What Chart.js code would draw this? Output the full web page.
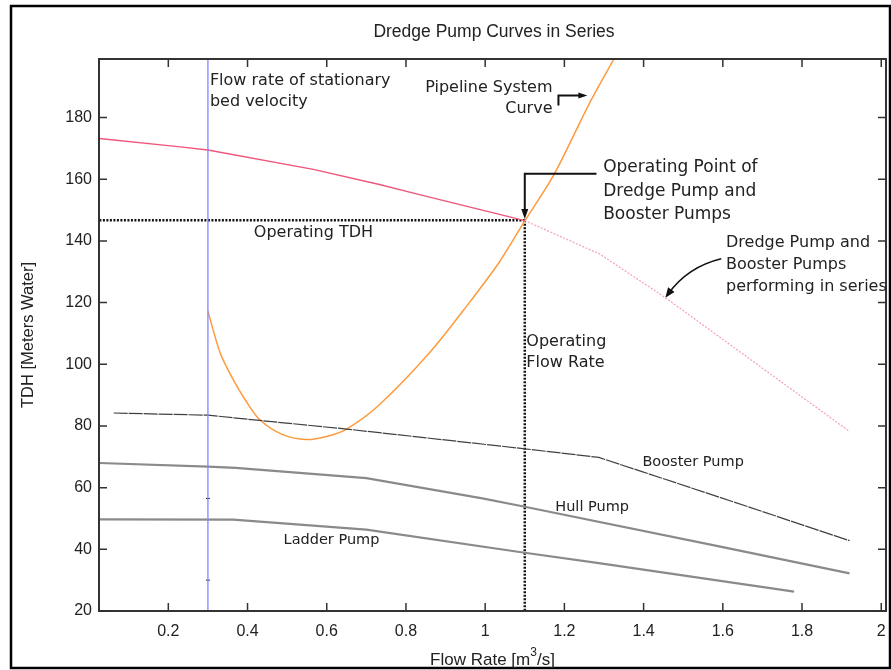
<!DOCTYPE html>
<html lang="en">
  <head>
    <meta charset="UTF-8" />
    <title>Dredge Pump Curves in Series</title>
    <style>
      * {
        margin: 0;
        padding: 0;
        box-sizing: border-box;
      }
      body {
        background: white;
      }
      canvas {
        display: block;
      }
    </style>
  </head>
  <body>
    <canvas id="myChart" width="891" height="670"></canvas>

    <script src="https://cdn.jsdelivr.net/npm/chart.js"></script>

    <script>
      // tick labels
      const xTicks = [0.2, 0.4, 0.6, 0.8, 1, 1.2, 1.4, 1.6, 1.8, 2];
      const yTicks = [20, 40, 60, 80, 100, 120, 140, 160, 180];

      // dredge + booster pumps in series (solid up to operating point, dotted after)
      const seriesX = [0.026, 0.23, 0.3, 0.566, 0.733, 0.834, 1.1];
      const seriesTdh = [173.2, 170.5, 169.5, 163.2, 158.3, 155, 146.6];
      const seriesOutX = [1.1, 1.29, 1.455, 1.92];
      const seriesOutTdh = [146.6, 135.7, 121.6, 78.2];

      const boosterX = [0.062, 0.3, 0.43, 0.65, 1.1, 1.287, 1.396, 1.622, 1.92];
      const boosterTdh = [84.2, 83.5, 81.8, 79, 72.6, 69.8, 65.2, 55.6, 42.8];

      const hullX = [0.026, 0.3, 0.37, 0.7, 0.993, 1.1, 1.6, 1.92];
      const hullTdh = [68, 66.8, 66.4, 63.1, 56.5, 53.8, 40.7, 32.2];

      const ladderX = [0.026, 0.364, 0.7, 1.1, 1.287, 1.78];
      const ladderTdh = [49.7, 49.6, 46.4, 38.9, 35.5, 26.3];

      const pipeX = [0.3, 0.331, 0.364, 0.394, 0.431, 0.49, 0.549, 0.6, 0.65, 0.733, 0.86, 0.96, 1.035, 1.1, 1.174, 1.262, 1.325];
      const pipeTdh = [117.2, 103.7, 95, 88.5, 82, 77.1, 75.6, 76.6, 79, 86.9, 103.8, 120, 133, 146.5, 161.6, 184.3, 199];

      const stationaryFlow = 0.3;
      const stationaryMarks = [56.5, 30];
      const opFlow = 1.1;
      const opTdh = 146.7;

      const pts = (xs, ys) => xs.map((x, i) => ({ x: x, y: ys[i] }));

      const tickFont = { family: "Liberation Sans", size: 16 };
      const noteFont = '"DejaVu Sans", sans-serif';

      function arrowHead(ctx, fx, fy, tx, ty, len, half) {
        const a = Math.atan2(ty - fy, tx - fx);
        ctx.beginPath();
        ctx.moveTo(tx, ty);
        ctx.lineTo(tx - len * Math.cos(a) + half * Math.sin(a), ty - len * Math.sin(a) - half * Math.cos(a));
        ctx.lineTo(tx - len * Math.cos(a) - half * Math.sin(a), ty - len * Math.sin(a) + half * Math.cos(a));
        ctx.closePath();
        ctx.fill();
      }

      const frameAndNotes = {
        id: "frameAndNotes",
        afterDraw(chart) {
          const {
            ctx,
            chartArea: { left, right, top, bottom },
            scales: { x, y },
          } = chart;
          ctx.save();

          // outer frame
          ctx.strokeStyle = "#000";
          ctx.lineWidth = 2.5;
          ctx.strokeRect(11, 6, 879, 662);

          // plot box + inward ticks on all sides
          ctx.strokeStyle = "#333";
          ctx.lineWidth = 2;
          ctx.strokeRect(left, top, right - left, bottom - top);
          ctx.lineWidth = 1.5;
          ctx.beginPath();
          xTicks.forEach((v) => {
            const px = x.getPixelForValue(v);
            ctx.moveTo(px, bottom);
            ctx.lineTo(px, bottom - 8);
            ctx.moveTo(px, top);
            ctx.lineTo(px, top + 8);
          });
          yTicks.forEach((v) => {
            const py = y.getPixelForValue(v);
            ctx.moveTo(left, py);
            ctx.lineTo(left + 8, py);
            ctx.moveTo(right, py);
            ctx.lineTo(right - 8, py);
          });
          ctx.stroke();

          // titles
          ctx.fillStyle = "#222";
          ctx.textAlign = "center";
          ctx.textBaseline = "middle";
          ctx.font = '17.5px "Liberation Sans"';
          ctx.fillText("Dredge Pump Curves in Series", 494, 32);

          ctx.save();
          ctx.translate(28, (top + bottom) / 2);
          ctx.rotate(-Math.PI / 2);
          ctx.font = '16.5px "Liberation Sans"';
          ctx.fillText("TDH [Meters Water]", 0, 0);
          ctx.restore();

          ctx.textAlign = "left";
          const p1 = "Flow Rate [m";
          const p2 = "/s]";
          ctx.font = '17px "Liberation Sans"';
          const w1 = ctx.measureText(p1).width;
          const w2 = ctx.measureText(p2).width;
          ctx.font = '12px "Liberation Sans"';
          const w3 = ctx.measureText("3").width;
          const sx = (left + right) / 2 - (w1 + w2 + w3) / 2;
          ctx.font = '17px "Liberation Sans"';
          ctx.fillText(p1, sx, 660);
          ctx.fillText(p2, sx + w1 + w3, 660);
          ctx.font = '12px "Liberation Sans"';
          ctx.fillText("3", sx + w1, 653);

          // annotations, anchored in data units
          const note = (lines, vx, vy, size, lh, align) => {
            ctx.font = size + "px " + noteFont;
            ctx.textAlign = align || "left";
            ctx.textBaseline = "middle";
            const px = x.getPixelForValue(vx);
            const py = y.getPixelForValue(vy);
            lines.forEach((t, i) => ctx.fillText(t, px, py + i * lh));
          };
          note(["Flow rate of stationary", "bed velocity"], 0.305, 192, 16, 21.5);
          note(["Pipeline System", "Curve"], 1.17, 189.7, 16, 21, "right");
          note(["Operating Point of", "Dredge Pump and", "Booster Pumps"], 1.298, 163.7, 17, 23.5);
          note(["Operating TDH"], 0.416, 142.6, 16, 0);
          note(["Operating", "Flow Rate"], 1.104, 107.3, 16, 21);
          note(["Dredge Pump and", "Booster Pumps", "performing in series"], 1.608, 139.4, 16, 22);
          note(["Booster Pump"], 1.397, 68.3, 14.5, 0);
          note(["Hull Pump"], 1.177, 53.7, 14.5, 0);
          note(["Ladder Pump"], 0.491, 43, 14.5, 0);

          // arrows
          ctx.strokeStyle = "#111";
          ctx.fillStyle = "#111";
          ctx.lineWidth = 2;
          ctx.beginPath();
          ctx.moveTo(x.getPixelForValue(1.185), y.getPixelForValue(183.9));
          ctx.lineTo(x.getPixelForValue(1.185), y.getPixelForValue(187.2));
          ctx.lineTo(x.getPixelForValue(1.24), y.getPixelForValue(187.2));
          ctx.stroke();
          arrowHead(ctx, x.getPixelForValue(1.185), y.getPixelForValue(187.2), x.getPixelForValue(1.258), y.getPixelForValue(187.2), 9, 3);

          const ox = x.getPixelForValue(opFlow);
          ctx.beginPath();
          ctx.moveTo(x.getPixelForValue(1.281), y.getPixelForValue(161.8));
          ctx.lineTo(ox, y.getPixelForValue(161.8));
          ctx.lineTo(ox, y.getPixelForValue(149));
          ctx.stroke();
          arrowHead(ctx, ox, y.getPixelForValue(161.8), ox, y.getPixelForValue(opTdh + 0.4), 10, 3.5);

          const cx0 = x.getPixelForValue(1.596), cy0 = y.getPixelForValue(134.2);
          const cx1 = x.getPixelForValue(1.512), cy1 = y.getPixelForValue(131.6);
          const cx2 = x.getPixelForValue(1.455), cy2 = y.getPixelForValue(121.6);
          ctx.lineWidth = 1.5;
          ctx.beginPath();
          ctx.moveTo(cx0, cy0);
          ctx.quadraticCurveTo(cx1, cy1, cx2 + 3, cy2 - 4);
          ctx.stroke();
          arrowHead(ctx, cx1, cy1, cx2, cy2, 10, 4);

          ctx.restore();
        },
      };

      const line = (data, color, width, dash, tension) => ({
        data: data,
        showLine: true,
        borderColor: color,
        borderWidth: width,
        borderDash: dash || [],
        pointRadius: 0,
        tension: tension || 0,
        fill: false,
      });

      const data = {
        datasets: [
          line(pts([stationaryFlow, stationaryFlow], [20, 199]), "#8585ff", 1.3),
          {
            data: stationaryMarks.map((v) => ({ x: stationaryFlow, y: v })),
            showLine: false,
            pointStyle: "line",
            pointRadius: 2,
            borderColor: "#223",
            borderWidth: 1,
          },
          line(pts(ladderX, ladderTdh), "#8a8a8a", 2.2),
          line(pts(hullX, hullTdh), "#8a8a8a", 2.2),
          line(pts(boosterX, boosterTdh), "#404040", 1.2, [14, 1]),
          line(pts(seriesOutX, seriesOutTdh), "#f5a0b5", 1.2, [2, 1.5]),
          line(pts(seriesX, seriesTdh), "#f0567a", 1.4),
          line(pts(pipeX, pipeTdh), "#ff9a3c", 1.5, [], 0.3),
          line(pts([0.026, opFlow], [opTdh, opTdh]), "#111", 2.5, [2, 1.5]),
          line(pts([opFlow, opFlow], [opTdh, 20]), "#111", 2.5, [2, 1.5]),
        ],
      };

      const config = {
        type: "scatter",
        data: data,
        options: {
          responsive: false,
          animation: false,
          layout: {
            padding: { top: 59, right: 4, left: 0, bottom: 0 },
          },
          plugins: {
            legend: { display: false },
            tooltip: { enabled: false },
          },
          scales: {
            x: {
              type: "linear",
              min: 0.025,
              max: 2.012,
              grid: { display: false, drawTicks: false },
              border: { display: false },
              ticks: {
                font: tickFont,
                color: "#222",
                padding: 11,
                maxRotation: 0,
                autoSkip: false,
                callback: (v) => String(Math.round(v * 10) / 10),
              },
              afterBuildTicks: (s) => {
                s.ticks = xTicks.map((v) => ({ value: v }));
              },
              afterFit: (s) => {
                s.height = 59;
                s.paddingLeft = 0;
                s.paddingRight = 0;
              },
            },
            y: {
              type: "linear",
              min: 20,
              max: 199,
              grid: { display: false, drawTicks: false },
              border: { display: false },
              ticks: {
                font: tickFont,
                color: "#222",
                padding: 7,
                autoSkip: false,
              },
              afterBuildTicks: (s) => {
                s.ticks = yTicks.map((v) => ({ value: v }));
              },
              afterFit: (s) => {
                s.width = 99;
                s.paddingTop = 0;
                s.paddingBottom = 0;
              },
            },
          },
        },
        plugins: [frameAndNotes],
      };

      const myChart = new Chart(document.getElementById("myChart"), config);
    </script>
  </body>
</html>
